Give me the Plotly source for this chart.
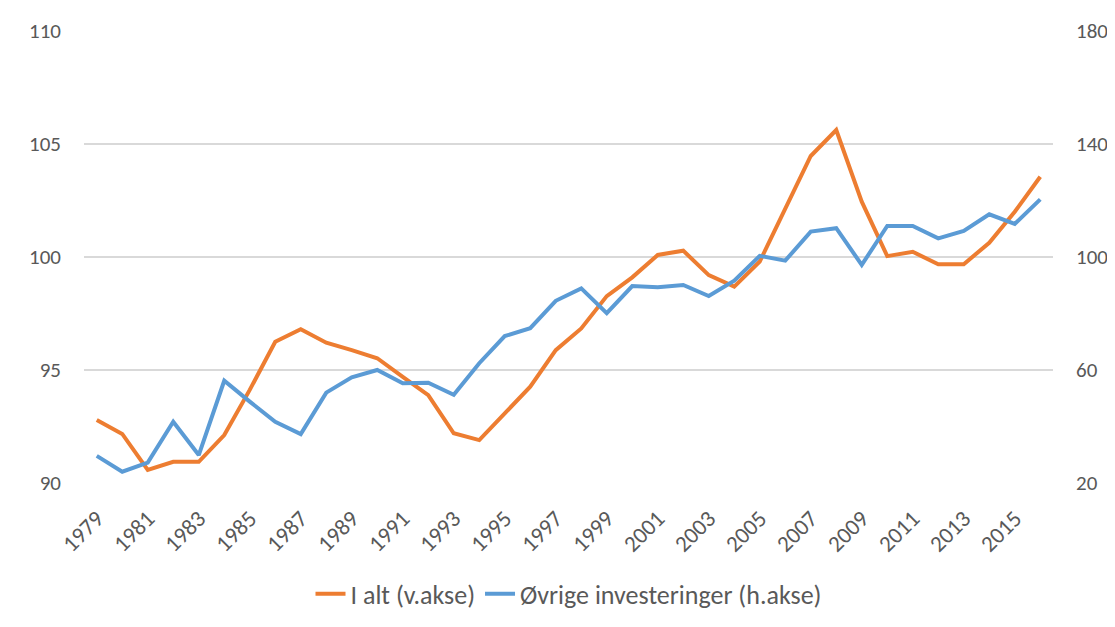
import plotly.graph_objects as go

years = list(range(1979, 2017))
i_alt = [92.79, 92.17, 90.58, 90.94, 90.94, 92.12, 94.12, 96.25, 96.80, 96.21,
         95.88, 95.52, 94.70, 93.89, 92.20, 91.90, 93.08, 94.26, 95.88, 96.84,
         98.27, 99.10, 100.09, 100.28, 99.20, 98.69, 99.80, 102.15, 104.47, 105.62,
         102.45, 100.04, 100.23, 99.68, 99.68, 100.63, 102.00, 103.55]
ovrige = [29.6, 24.0, 27.2, 41.7, 29.9, 56.2, 48.8, 41.7, 37.3, 52.0,
          57.4, 60.0, 55.3, 55.5, 51.2, 62.4, 72.0, 74.8, 84.5, 88.9,
          80.1, 89.7, 89.3, 90.1, 86.2, 91.6, 100.4, 98.7, 109.0, 110.2,
          97.2, 111.0, 111.0, 106.6, 109.2, 115.1, 111.7, 120.4]
tick_years = list(range(1979, 2017, 2))
left_ticks = [90, 95, 100, 105, 110]
right_ticks = [20, 60, 100, 140, 180]

FONT = "Carlito, Lato, 'Liberation Sans', sans-serif"
TXT = "#595959"

fig = go.Figure()
fig.add_trace(go.Scatter(x=years, y=i_alt, mode="lines", name="I alt (v.akse)",
                         line=dict(color="#ED7D31", width=4), yaxis="y"))
fig.add_trace(go.Scatter(x=years, y=ovrige, mode="lines", name="Øvrige investeringer (h.akse)",
                         line=dict(color="#5B9BD5", width=4), yaxis="y2"))

fig.update_layout(
    width=1115, height=627,
    margin=dict(l=76, r=70, t=23, b=152, autoexpand=False),
    paper_bgcolor="white", plot_bgcolor="white",
    font=dict(family=FONT, size=21, color=TXT),
    xaxis=dict(range=[1978.5, 2016.5], tickvals=tick_years, ticktext=[str(y) for y in tick_years],
               tickangle=-45, showgrid=False, zeroline=False, showline=False,
               ticks="outside", ticklen=12, tickcolor="rgba(0,0,0,0)",
               tickfont=dict(size=23, color=TXT)),
    yaxis=dict(range=[90, 110], tickvals=left_ticks, showgrid=True, gridcolor="#D9D9D9",
               gridwidth=1.5, zeroline=False, showline=False, ticks="",
               ticklabelstandoff=22, tickfont=dict(size=21, color=TXT)),
    yaxis2=dict(range=[20, 180], tickvals=right_ticks, overlaying="y", side="right",
                showgrid=False, zeroline=False, showline=False, ticks="",
                ticklabelstandoff=22, tickfont=dict(size=21, color=TXT)),
    legend=dict(orientation="h", x=0.5, xanchor="center", y=-0.245, yanchor="middle",
                font=dict(size=26, color=TXT), tracegroupgap=0,
                bgcolor="rgba(0,0,0,0)"),
    showlegend=True,
    shapes=[dict(type="rect", xref="paper", yref="paper",
                 x0=-0.0841, x1=1.07, y0=-0.35, y1=1.0642,
                 line=dict(color="#D9D9D9", width=2), fillcolor="rgba(0,0,0,0)", layer="below")],
)

fig.write_html("out.html")
